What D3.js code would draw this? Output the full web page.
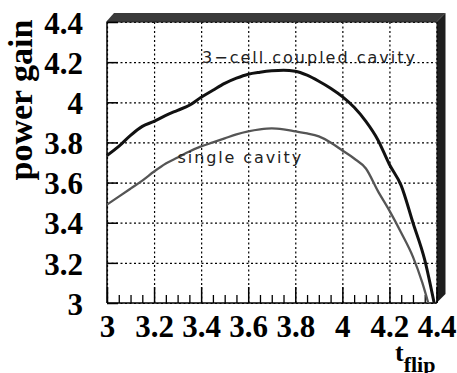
<!DOCTYPE html>
<html>
<head>
<meta charset="utf-8">
<script src="https://cdn.jsdelivr.net/npm/d3@7"></script>
<style>
  body { margin: 0; background: #fff; }
  svg { display: block; }
  .grid line { stroke: #000; stroke-width: 1.2; stroke-dasharray: 2,2.5; }
  .grid .domain { display: none; }
</style>
</head>
<body>
<div id="vis"></div>
<script>
// values
var tFlip = [3.0, 3.05, 3.1, 3.15, 3.2, 3.25, 3.3, 3.35, 3.4, 3.45, 3.5, 3.55, 3.6, 3.65, 3.7, 3.75,
             3.8, 3.85, 3.9, 3.95, 4.0, 4.05, 4.1, 4.15, 4.2, 4.25, 4.3, 4.35, 4.39];
var coupledGain = [3.735, 3.78, 3.835, 3.88, 3.905, 3.935, 3.96, 3.985, 4.025, 4.06, 4.094, 4.12, 4.14, 4.15, 4.157, 4.16,
                   4.155, 4.135, 4.105, 4.07, 4.028, 3.975, 3.905, 3.815, 3.69, 3.585, 3.40, 3.215, 3.0];

var tFlipSingle = [3.0, 3.05, 3.1, 3.15, 3.2, 3.25, 3.3, 3.35, 3.4, 3.45, 3.5, 3.55, 3.6, 3.65, 3.7, 3.75,
                   3.8, 3.85, 3.9, 3.95, 4.0, 4.05, 4.1, 4.15, 4.2, 4.25, 4.3, 4.34, 4.365];
var singleGain = [3.49, 3.53, 3.57, 3.61, 3.655, 3.695, 3.725, 3.755, 3.78, 3.80, 3.82, 3.84, 3.855, 3.865, 3.87, 3.865,
                  3.855, 3.845, 3.83, 3.80, 3.76, 3.72, 3.67, 3.56, 3.46, 3.35, 3.23, 3.10, 3.0];

var xTicks = [3, 3.2, 3.4, 3.6, 3.8, 4, 4.2, 4.4];
var yTicks = [3, 3.2, 3.4, 3.6, 3.8, 4, 4.2, 4.4];

var serif = '"Liberation Serif", "Times New Roman", serif';
var width = 457, height = 373;
var margin = { top: 22, left: 107, bottom: 70, right: 20.5 };
var w = width - margin.left - margin.right;
var h = height - margin.top - margin.bottom;

var svg = d3.select('#vis').append('svg')
  .attr('width', width)
  .attr('height', height);

var g = svg.append('g')
  .attr('transform', 'translate(' + margin.left + ',' + margin.top + ')');

var x = d3.scaleLinear().domain([3, 4.4]).range([0, w]);
var y = d3.scaleLinear().domain([3, 4.4]).range([h, 0]);

// shadowed top / right border
g.append('polygon')
  .attr('points', [[-1, 0], [7, -9], [w + 9, -9], [w, 0]].join(' '))
  .attr('fill', '#3a3a3a');
g.append('polygon')
  .attr('points', [[w, 0], [w + 9, -9], [w + 9, h - 9], [w, h]].join(' '))
  .attr('fill', '#1e1e1e');

// dotted grid
g.append('g')
  .attr('class', 'grid')
  .attr('transform', 'translate(0,' + h + ')')
  .call(d3.axisBottom(x).tickValues(xTicks).tickSize(-h).tickFormat(''));
g.append('g')
  .attr('class', 'grid')
  .call(d3.axisLeft(y).tickValues(yTicks).tickSize(-w).tickFormat(''));

// frame
g.append('line').attr('x1', 0).attr('x2', 0).attr('y1', 0).attr('y2', h)
  .attr('stroke', '#000').attr('stroke-width', 1.5);
g.append('line').attr('x1', 0).attr('x2', w).attr('y1', h).attr('y2', h)
  .attr('stroke', '#000').attr('stroke-width', 1.5);
g.append('line').attr('x1', 0).attr('x2', w).attr('y1', 0).attr('y2', 0)
  .attr('stroke', '#222').attr('stroke-width', 1);

// minor ticks on x
var minor = x.ticks(28).filter(function (d) {
  return Math.abs(d * 5 - Math.round(d * 5)) > 1e-6;
});
g.append('g')
  .attr('transform', 'translate(0,' + h + ')')
  .call(d3.axisBottom(x).tickValues(minor).tickSize(-8).tickFormat(''))
  .call(function (s) {
    s.select('.domain').remove();
    s.selectAll('line').attr('stroke-width', 1.3);
  });

// major ticks + labels
function styleLabels(s) {
  s.select('.domain').remove();
  s.selectAll('line').attr('stroke-width', 1.5);
  s.selectAll('text')
    .attr('fill', '#000')
    .style('font-family', serif)
    .style('font-size', '31px')
    .style('font-weight', 'bold');
}

g.append('g')
  .attr('transform', 'translate(0,' + h + ')')
  .call(d3.axisBottom(x).tickValues(xTicks).tickSize(-16).tickPadding(12).tickFormat(function (d) { return d; }))
  .call(styleLabels);

g.append('g')
  .call(d3.axisLeft(y).tickValues(yTicks).tickSize(-11).tickPadding(24).tickFormat(function (d) { return d; }))
  .call(styleLabels)
  .call(function (s) { s.selectAll('text').attr('dy', '0.36em'); });

// curves
var line = d3.line()
  .x(function (d) { return x(d[0]); })
  .y(function (d) { return y(d[1]); })
  .curve(d3.curveMonotoneX);

g.append('path')
  .datum(d3.zip(tFlipSingle, singleGain))
  .attr('d', line)
  .attr('fill', 'none')
  .attr('stroke', '#555')
  .attr('stroke-width', 2.3);

g.append('path')
  .datum(d3.zip(tFlip, coupledGain))
  .attr('d', line)
  .attr('fill', 'none')
  .attr('stroke', '#111')
  .attr('stroke-width', 3);

// curve labels
g.append('text')
  .attr('x', x(3.404))
  .attr('y', y(4.196))
  .attr('font-family', 'DejaVu Sans, sans-serif')
  .attr('font-size', 16)
  .attr('letter-spacing', 2)
  .attr('fill', '#222')
  .text('3\u2212cell coupled cavity');

g.append('text')
  .attr('x', x(3.30))
  .attr('y', y(3.697))
  .attr('font-family', 'DejaVu Sans, sans-serif')
  .attr('font-size', 16)
  .attr('letter-spacing', 1.9)
  .attr('fill', '#222')
  .text('single cavity');

// axis titles
svg.append('text')
  .attr('transform', 'translate(32,100) rotate(-90)')
  .attr('text-anchor', 'middle')
  .style('font-family', serif)
  .attr('font-weight', 'bold')
  .attr('font-size', 34)
  .text('power gain');

var tl = svg.append('text')
  .attr('x', 395)
  .attr('y', 361)
  .style('font-family', serif)
  .attr('font-weight', 'bold')
  .attr('font-size', 26);
tl.append('tspan').text('t');
tl.append('tspan').attr('font-size', 22).attr('dy', 11).text('flip');
</script>
</body>
</html>
